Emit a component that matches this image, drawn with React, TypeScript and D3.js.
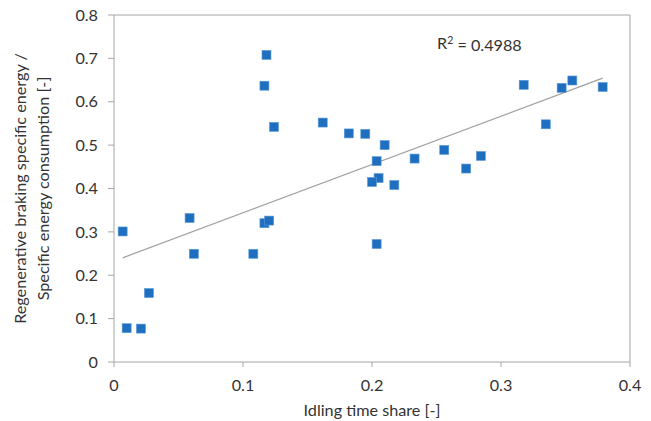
import React from "react";
import * as d3 from "d3";

const idlingShare = [
  0.0067, 0.0098, 0.0209, 0.0271, 0.0586, 0.0619, 0.108, 0.1166, 0.1203, 0.1166,
  0.1182, 0.124, 0.1618, 0.182, 0.1948, 0.2098, 0.2036, 0.2051, 0.2, 0.2173,
  0.2036, 0.233, 0.256, 0.273, 0.2844, 0.3176, 0.3347, 0.347, 0.3553, 0.3788,
];
const energyRatio = [
  0.301, 0.078, 0.077, 0.159, 0.332, 0.2495, 0.2495, 0.32, 0.326, 0.637,
  0.708, 0.542, 0.552, 0.527, 0.526, 0.5, 0.463, 0.424, 0.415, 0.408,
  0.272, 0.469, 0.489, 0.446, 0.475, 0.639, 0.548, 0.632, 0.649, 0.634,
];
const xTicks = [0, 0.1, 0.2, 0.3, 0.4];
const yTicks = [0, 0.1, 0.2, 0.3, 0.4, 0.5, 0.6, 0.7, 0.8];
const r2Label = "0.4988";

const W = 651;
const H = 421;
const L = 114;
const R = 630;
const T = 15;
const B = 362;
const FONT = "Lato, 'Open Sans', sans-serif";
const FS = 16.2;

export default function App() {
  const x = d3.scaleLinear().domain([0, 0.4]).range([L, R]);
  const y = d3.scaleLinear().domain([0, 0.8]).range([B, T]);
  const n = idlingShare.length;
  const mx = d3.mean(idlingShare)!;
  const my = d3.mean(energyRatio)!;
  let sxy = 0, sxx = 0;
  for (let i = 0; i < n; i++) {
    sxy += (idlingShare[i] - mx) * (energyRatio[i] - my);
    sxx += (idlingShare[i] - mx) ** 2;
  }
  const slope = sxy / sxx;
  const icpt = my - slope * mx;
  const [x0, x1] = d3.extent(idlingShare) as [number, number];
  const line = d3.line<number>().x((d) => x(d)).y((d) => y(icpt + slope * d));
  const axisColor = "#a6a6a6";
  const textColor = "#333";
  const ms = 9;

  return (
    <svg width={W} height={H} style={{ position: "absolute", left: 0, top: 0 }}>
      <rect x={0} y={0} width={W} height={H} fill="#fff" />
      <line x1={L} x2={R} y1={T} y2={T} stroke={axisColor} />
      <line x1={R} x2={R} y1={T} y2={B} stroke={axisColor} />
      <line x1={L} x2={R} y1={B} y2={B} stroke={axisColor} />
      <line x1={L} x2={L} y1={T} y2={B} stroke={axisColor} />
      {yTicks.map((t) => (
        <g key={"y" + t}>
          <line x1={L - 6} x2={L} y1={y(t)} y2={y(t)} stroke={axisColor} />
          <text x={98} y={y(t)} dy="0.35em" textAnchor="end" fontFamily={FONT} fontSize={FS} fill={textColor}>
            {String(t)}
          </text>
        </g>
      ))}
      {xTicks.map((t) => (
        <g key={"x" + t}>
          <line x1={x(t)} x2={x(t)} y1={B} y2={B + 5} stroke={axisColor} />
          <text x={x(t)} y={385} dy="0.35em" textAnchor="middle" fontFamily={FONT} fontSize={FS} fill={textColor}>
            {String(t)}
          </text>
        </g>
      ))}
      <text x={(L + R) / 2} y={410} dy="0.35em" textAnchor="middle" fontFamily={FONT} fontSize={FS} fill={textColor}>
        Idling time share [-]
      </text>
      <g transform={`translate(20,${(T + B) / 2}) rotate(-90)`}>
        <text x={0} y={0} dy="0.35em" textAnchor="middle" fontFamily={FONT} fontSize={FS} fill={textColor}>
          Regenerative braking specific energy /
        </text>
        <text x={0} y={23} dy="0.35em" textAnchor="middle" fontFamily={FONT} fontSize={FS} fill={textColor}>
          Specific energy consumption [-]
        </text>
      </g>
      <path d={line([x0, x1]) || ""} stroke="#a0a0a0" strokeWidth={1.2} fill="none" />
      {idlingShare.map((d, i) => (
        <rect
          key={i}
          x={x(d) - ms / 2}
          y={y(energyRatio[i]) - ms / 2}
          width={ms}
          height={ms}
          fill="#1f6fc0"
          stroke="#5a9ad6"
          strokeWidth={0.6}
        />
      ))}
      <text x={437} y={43} dy="0.35em" fontFamily={FONT} fontSize={FS} fill={textColor}>
        R<tspan dy="-0.45em" fontSize={10.5}>2</tspan>
        <tspan dy="0.45em"> = {r2Label}</tspan>
      </text>
    </svg>
  );
}
